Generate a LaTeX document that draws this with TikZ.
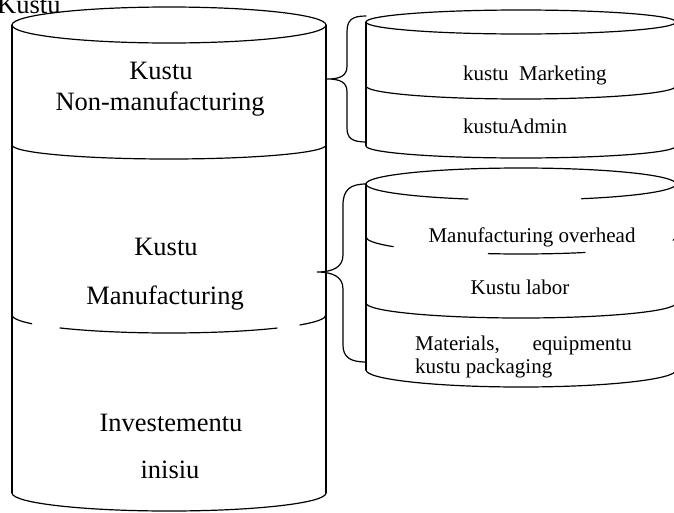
\documentclass[tikz,border=0pt]{standalone}
\usepackage{fontspec}
\setmainfont{Liberation Serif}
\begin{document}
\begin{tikzpicture}[x=1pt,y=1pt,
  edge/.style={line width=1.2pt,line cap=round},
  bigtxt/.style={inner sep=0pt,anchor=base,font=\fontsize{26.5}{31}\selectfont},
  smalltxt/.style={inner sep=0pt,font=\fontsize{21}{24}\selectfont}]
\useasboundingbox (0,0) rectangle (674,-512);

% ---------- main cylinder ----------
\draw[edge] (169,-25) ellipse [x radius=157, y radius=18];
\draw[edge] (12,-25) -- (12,-493);
\draw[edge] (326,-25) -- (326,-493);
\draw[edge] (12,-145) arc [start angle=180, end angle=360, x radius=157, y radius=14];
% broken divider
\draw[edge] (169,-315) ++(180:157 and 18) arc [start angle=180, end angle=209, x radius=157, y radius=18];
\draw[edge] (169,-315) ++(226:157 and 18) arc [start angle=226, end angle=313.5, x radius=157, y radius=18];
\draw[edge] (169,-315) ++(326.5:157 and 18) arc [start angle=326.5, end angle=360, x radius=157, y radius=18];
\draw[edge] (12,-493) arc [start angle=180, end angle=360, x radius=157, y radius=18];

\node[bigtxt,anchor=base west] (title) at (-3,-13) {Kustu};
\node[bigtxt] (nm1) at (161,-79) {Kustu};
\node[bigtxt] (nm2) at (160,-110) {Non-manufacturing};
\node[bigtxt] (m1) at (166,-255) {Kustu};
\node[bigtxt] (m2) at (165,-304) {Manufacturing};
\node[bigtxt] (i1) at (171,-431) {Investementu};
\node[bigtxt] (i2) at (170,-478) {inisiu};

% ---------- right cylinder 1 ----------
\draw[edge] (521,-22) ellipse [x radius=155, y radius=12];
\draw[edge] (366,-22) -- (366,-146);
\draw[edge] (676,-22) -- (676,-146);
\draw[edge] (366,-86) arc [start angle=180, end angle=360, x radius=155, y radius=13];
\draw[edge] (366,-146) arc [start angle=180, end angle=360, x radius=155, y radius=12];
\node[smalltxt,anchor=base west] (mk) at (463,-80) {kustu\ \ Marketing};
\node[smalltxt,anchor=base west] (ad) at (463,-133) {kustuAdmin};

% brace 1
\draw[edge] (366,-16) .. controls (352,-16) and (347,-20) .. (347,-32) -- (347,-66)
  .. controls (347,-76) and (340,-79) .. (327,-79)
  .. controls (340,-79) and (347,-82) .. (347,-92) -- (347,-128)
  .. controls (347,-138) and (352,-142) .. (366,-142);

% ---------- right cylinder 2 ----------
\draw[edge] (521,-184) ++(0:155 and 16) arc [start angle=0, end angle=180, x radius=155, y radius=16];
\draw[edge] (521,-184) ++(180:155 and 16) arc [start angle=180, end angle=250, x radius=155, y radius=16];
\draw[edge] (521,-184) ++(293:155 and 16) arc [start angle=293, end angle=360, x radius=155, y radius=16];
\draw[edge] (366,-184) -- (366,-370);
\draw[edge] (676,-184) -- (676,-370);
% broken divider
\draw[edge] (521,-237) ++(180:155 and 17) arc [start angle=180, end angle=214.5, x radius=155, y radius=17];
\draw[edge] (521,-237) ++(257.8:155 and 17) arc [start angle=257.8, end angle=294.4, x radius=155, y radius=17];
\draw[edge] (521,-237) ++(349:155 and 17) arc [start angle=349, end angle=360, x radius=155, y radius=17];
\draw[edge] (366,-303) arc [start angle=180, end angle=360, x radius=155, y radius=15];
\draw[edge] (366,-370) arc [start angle=180, end angle=360, x radius=155, y radius=17];

\node[smalltxt,anchor=base] (mo) at (532,-242) {Manufacturing overhead};
\node[smalltxt,anchor=base] (kl) at (520,-294) {Kustu labor};
\node[smalltxt,anchor=base west] (ma) at (415,-350) {Materials,};
\node[smalltxt,anchor=base east] (eq) at (632,-350) {equipmentu};
\node[smalltxt,anchor=base west] (kp) at (415,-373) {kustu packaging};

% brace 2
\draw[edge] (366,-184) .. controls (350,-184) and (343,-190) .. (343,-205) -- (343,-255)
  .. controls (343,-267) and (333,-272) .. (317,-272)
  .. controls (333,-272) and (343,-277) .. (343,-289) -- (343,-345)
  .. controls (343,-357) and (350,-362) .. (366,-362);
\end{tikzpicture}
\end{document}
